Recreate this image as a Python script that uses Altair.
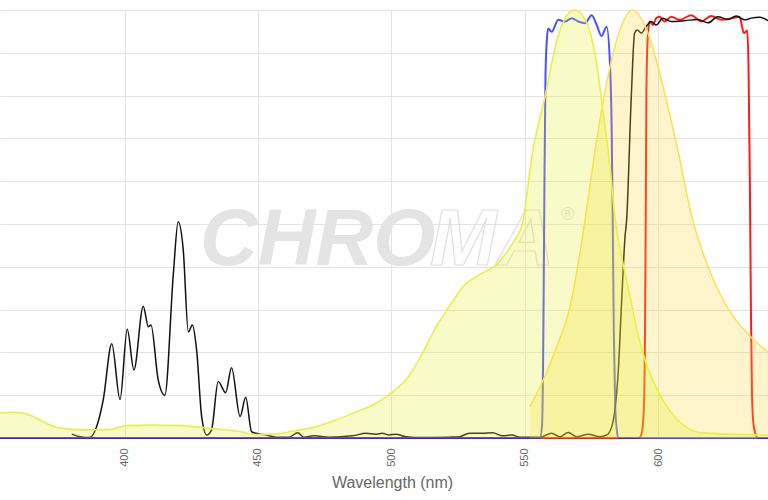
import altair as alt
import pandas as pd

# ---- data ----
lime_nm = [353.3, 358.9, 364.5, 369.4, 375.8, 384.4, 393.4, 400.9, 409.5, 421.9, 430.9, 443.3, 449.2, 456.7,
           465.4, 471.7, 479.2, 486.7, 493.1, 499.9, 505.5, 511.8, 516.7, 521.6, 526.8, 534.3, 539.2, 543.0,
           546.3, 549.0, 553.1, 557.6, 562.1, 565.8, 568.8, 573.3, 577.1, 579.3, 582.0, 583.8, 586.8, 589.8,
           592.1, 595.1, 601.1, 607.4, 616.1, 641.2]
lime_val = [5.8, 6.0, 5.4, 3.8, 2.3, 1.9, 1.9, 2.9, 3.0, 2.9, 2.3, 1.5, 0.8, 0.9,
            1.9, 2.6, 4.2, 6.1, 7.7, 10.5, 13.6, 19.9, 25.9, 30.6, 35.3, 38.6, 40.4, 43.2,
            46.3, 49.8, 67.3, 79.7, 93.0, 98.8, 100.0, 97.0, 86.9, 76.6, 63.3, 51.6, 40.9, 32.2,
            25.2, 18.2, 9.6, 4.2, 1.2, 0.7]

gold_nm = [552.0, 557.0, 562.0, 567.0, 570.7, 572.6, 577.0, 580.7, 584.5, 588.2, 590.2, 596.2, 600.0,
           603.7, 607.4, 612.3, 618.7, 625.0, 634.8, 641.2]
gold_val = [7.3, 13.6, 21.3, 30.7, 43.2, 50.9, 69.6, 82.9, 93.0, 98.8, 100.0, 94.6, 86.7,
            77.3, 67.3, 52.6, 40.0, 31.5, 23.6, 20.1]

blue_nm = [353.3, 555.7, 556.5, 557.0, 557.4, 557.8, 558.3, 558.8, 560.1, 562.6, 565.1, 567.6, 570.1, 572.6,
           575.1, 577.0, 578.8, 580.7, 582.0, 582.6, 583.0, 583.4, 583.9, 584.5, 585.1, 641.2]
blue_val = [0, 0, 3, 25, 60, 85, 93, 95.7, 94.9, 97.7, 97.3, 98.1, 97.3, 96.9,
            98.8, 96.5, 93.9, 96.1, 86.8, 72, 50, 25, 8, 2, 0, 0]

red_nm = [353.3, 592.8, 593.8, 594.6, 595.1, 595.4, 595.6, 596.0, 596.8, 598.1, 599.3, 600.6, 602.4, 604.9,
          608.1, 612.4, 616.2, 619.9, 623.7, 628.0, 630.5, 632.2, 633.4, 633.9, 634.4, 634.8, 635.2, 635.8,
          636.8, 637.6, 641.2]
red_val = [0, 0, 1, 6, 25, 55, 80, 92, 97.3, 96.5, 98.1, 98.4, 97.3, 98.4,
           97.7, 98.8, 97.3, 98.6, 97.7, 98.1, 98.4, 94.6, 95.2, 86.8, 60, 30, 10, 3,
           0.5, 0, 0]

black_nm = [380.2, 383.3, 387.0, 389.5, 392.0, 395.2, 398.3, 401.0, 403.5, 407.0, 408.9, 409.9, 412.6, 415.1,
            418.3, 420.1, 422.0, 423.9, 425.4, 427.0, 428.9, 430.8, 432.6, 435.1, 437.9, 440.1, 443.3, 445.4,
            447.6, 449.2, 450.8, 453.0, 456.8, 461.6, 464.9, 467.2, 471.0, 476.6, 485.5, 490.5, 494.2, 496.7,
            499.1, 501.7, 505.5, 511.7, 521.7, 525.5, 529.2, 534.2, 538.0, 541.7, 545.2, 548.2, 555.7, 560.1,
            563.2, 566.3, 569.5, 573.8, 578.2, 580.7, 582.6, 583.8, 585.1, 586.3, 587.6, 588.2, 589.9, 591.2,
            592.2, 593.7, 595.5, 597.4, 599.3, 601.8, 604.9, 609.9, 614.9, 618.7, 622.4, 626.2, 629.3, 632.4,
            634.9, 638.0, 641.2]
black_val = [0.9, 0.3, 0.1, 2.6, 8.9, 22.0, 9.0, 25.4, 15.9, 30.8, 26.0, 26.4, 13.6, 10.0,
             38.5, 50.5, 43.9, 24.8, 26.4, 20.6, 5.0, 0.7, 1.9, 13.2, 10.6, 16.4, 5.0, 9.5,
             1.5, 1.1, 0.9, 0.7, 0.2, 0.2, 1.2, 0.2, 0.5, 0.2, 0.5, 1.1, 0.9, 1.1,
             0.7, 0.9, 0.3, 0.1, 0.2, 0.3, 1.1, 1.1, 1.2, 0.5, 0.7, 0.2, 0.2, 1.1,
             0.3, 1.3, 0.3, 0.9, 0.3, 0.7, 2.6, 6.5, 15.9, 31.5, 47.0, 50.9, 79.0, 94.6,
             95.3, 94.6, 96.1, 97.3, 96.5, 98.1, 97.3, 97.5, 97.8, 97.0, 98.4, 97.8, 98.6, 97.7,
             98.1, 98.3, 97.5]

tick_values = [400, 450, 500, 550, 600]
grid_values = [0, 10, 20, 30, 40, 50, 60, 70, 80, 90, 100]
x_domain = [353.3, 641.2]

FONT = "Liberation Sans"


def df(nm, val):
    return pd.DataFrame({"nm": nm, "v": val})


x_enc = alt.X("nm:Q", scale=alt.Scale(domain=x_domain, nice=False, zero=False),
              axis=alt.Axis(values=tick_values, labelAngle=270, labelColor="#666666", labelFontSize=11,
                            labelFont=FONT, labelPadding=10, ticks=False, domain=False,
                            gridColor="#e3e3e3", title="Wavelength (nm)", titleFont=FONT,
                            titleFontSize=16, titleFontWeight="normal", titleColor="#666666",
                            titlePadding=8, titleX=392))
y_enc = alt.Y("v:Q", scale=alt.Scale(domain=[0, 100], nice=False),
              axis=alt.Axis(values=grid_values, labels=False, ticks=False, domain=False,
                            gridColor="#e3e3e3", title=None))

wm = pd.DataFrame({"t": ["CHRO"]})
wm2 = pd.DataFrame({"t": ["MA"]})
wm3 = pd.DataFrame({"t": ["®"]})

logo1 = alt.Chart(wm).mark_text(font=FONT, fontSize=80, fontWeight="bold", fontStyle="italic",
                                color="#e4e4e4", align="left", baseline="alphabetic").encode(
    x=alt.value(200), y=alt.value(255), text="t:N")
logo2 = alt.Chart(wm2).mark_text(font=FONT, fontSize=80, fontWeight="bold", fontStyle="italic",
                                 fill="white", fillOpacity=0, stroke="#e0e0e0", strokeWidth=1.2,
                                 align="left", baseline="alphabetic").encode(
    x=alt.value(430), y=alt.value(255), text="t:N")
logo3 = alt.Chart(wm3).mark_text(font=FONT, fontSize=18, color="#e4e4e4", align="left",
                                 baseline="alphabetic").encode(
    x=alt.value(561), y=alt.value(210), text="t:N")

red = alt.Chart(df(red_nm, red_val)).mark_line(color="#ff1a1a", strokeWidth=2,
                                               interpolate="monotone").encode(x=x_enc, y=y_enc)
blue = alt.Chart(df(blue_nm, blue_val)).mark_line(color="#2222ff", strokeWidth=2, opacity=0.8,
                                                  interpolate="monotone").encode(x=x_enc, y=y_enc)
black = alt.Chart(df(black_nm, black_val)).mark_line(color="#111111", strokeWidth=1.5,
                                                     interpolate="monotone").encode(x=x_enc, y=y_enc)
lime = alt.Chart(df(lime_nm, lime_val)).mark_area(
    color="#e3f01e", fillOpacity=0.25, interpolate="monotone",
    line={"color": "#e6f245", "strokeWidth": 1.6}).encode(x=x_enc, y=y_enc)
gold = alt.Chart(df(gold_nm, gold_val)).mark_area(
    color="#fad632", fillOpacity=0.25, interpolate="monotone",
    line={"color": "#fce15a", "strokeWidth": 1.6}).encode(x=x_enc, y=y_enc)

chart = alt.layer(logo1, logo2, logo3, red, black, blue, gold, lime).properties(
    width=768, height=428,
    autosize=alt.AutoSizeParams(type="none"),
    padding={"left": 0, "top": 10, "right": 0, "bottom": 62},
    background="white",
).configure_view(stroke=None)

chart.save("out.html", embed_options={"renderer": "svg", "actions": False})
